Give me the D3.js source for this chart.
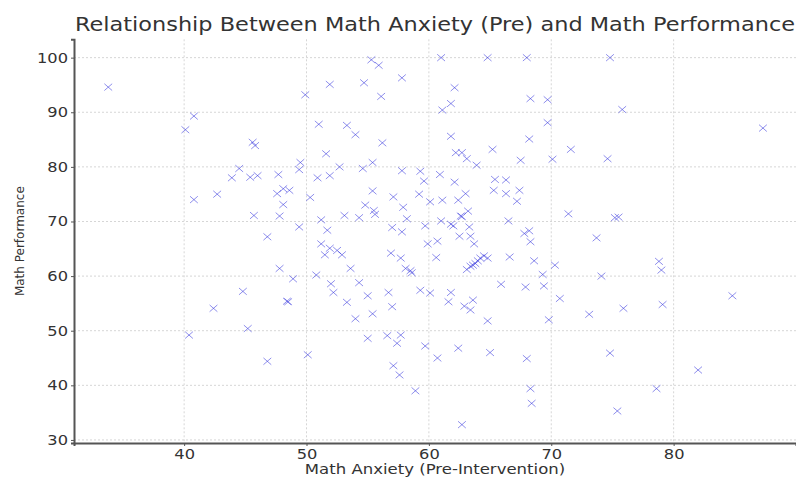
<!DOCTYPE html>
<html><head><meta charset="utf-8">
<script src="https://cdn.jsdelivr.net/npm/d3@7"></script>
<style>body{margin:0;background:#fff}svg{display:block}text{font-family:"DejaVu Sans",sans-serif;fill:#333}</style>
</head><body>
<script>
const anxiety = [33.8,40.8,40.1,45.6,45.8,44.5,43.9,45.4,42.7,40.8,45.7,
55.3,55.9,57.8,51.9,54.7,56.1,49.9,51.0,53.3,54.0,56.2,51.6,49.5,49.4,52.7,54.6,55.4,46.0,47.7,50.9,51.9,57.8,59.3,59.6,47.6,48.1,48.6,48.1,50.3,55.4,57.1,59.2,60.1,54.8,57.9,47.8,55.6,55.5,53.1,54.3,51.2,58.2,59.7,49.4,51.7,46.8,57.0,57.8,
61.0,64.8,68.0,74.8,62.1,61.8,61.1,68.3,69.7,69.7,61.8,68.2,65.2,71.6,62.2,62.7,63.1,63.9,67.5,70.1,74.6,60.9,62.1,65.4,66.3,63.0,65.3,66.3,67.4,67.2,61.1,62.4,63.2,62.6,62.7,61.0,61.8,62.0,63.3,66.5,71.4,75.2,67.8,68.2,62.5,63.4,73.7,
75.8,87.3,75.5,44.8,42.4,40.4,45.2,
51.2,51.9,52.5,52.9,51.5,53.6,47.8,48.9,50.8,52.0,52.2,54.3,55.0,56.7,57.0,53.3,54.0,55.4,48.4,48.5,55.0,56.6,57.7,57.4,59.7,56.9,57.7,58.1,58.5,58.6,59.3,60.1,59.9,46.8,50.1,57.1,57.6,58.9,
60.7,63.7,60.6,63.1,63.4,63.8,64.2,64.5,64.8,63.6,64.0,66.6,68.3,68.6,70.3,69.3,69.4,67.9,65.9,74.1,70.7,73.1,69.8,61.8,61.6,62.9,63.4,63.6,64.8,60.7,62.4,65.0,68.0,68.3,68.4,62.7,74.8,
78.8,79.0,75.9,79.1,84.8,82.0,78.6,75.4];
const performance = [94.6,89.3,86.8,84.5,83.9,79.7,78.0,78.1,75.0,74.0,71.1,
99.6,98.6,96.3,95.1,95.4,92.9,93.2,87.8,87.6,85.9,84.4,82.4,80.8,79.5,80.0,79.7,80.8,78.4,78.6,78.0,78.4,79.3,79.2,77.4,75.1,76.0,75.7,73.1,74.4,75.6,74.5,75.0,73.6,73.0,72.6,71.0,71.3,72.0,71.1,70.7,70.3,70.5,69.2,69.0,68.4,67.2,68.9,68.1,
100,100,100,100,94.5,91.6,90.4,92.5,92.3,88.1,85.6,85.1,83.2,83.2,82.6,82.6,81.5,80.3,81.2,81.4,81.5,78.6,77.2,77.7,77.6,75.1,75.7,75.1,75.7,73.7,73.9,73.9,71.9,71.0,70.9,70.1,69.5,69.2,69.0,70.1,71.4,70.7,67.8,68.3,67.3,67.3,67.0,
90.5,87.1,70.8,57.2,54.1,49.2,50.4,
65.9,65.1,64.7,63.9,63.9,61.4,61.4,59.5,60.2,58.6,57.0,58.8,56.4,57.0,54.4,55.2,52.2,53.1,55.4,55.3,48.6,49.1,49.2,47.7,47.2,64.2,63.3,61.4,61.0,60.6,57.4,56.9,65.9,44.4,45.6,43.6,41.9,39.0,
66.4,65.9,63.4,61.2,61.8,62.3,63.3,63.7,63.3,62.0,62.8,63.5,66.3,62.8,62.0,60.3,58.2,58.0,58.5,60.0,55.9,53.0,52.0,57.0,55.3,54.5,53.8,55.6,51.8,45.0,46.8,46.0,44.9,39.4,36.7,32.8,45.9,
62.7,61.1,54.1,54.8,56.4,42.8,39.4,35.3];
const xTicks = [40,50,60,70,80];
const yTicks = [30,40,50,60,70,80,90,100];
const titleText = "Relationship Between Math Anxiety (Pre) and Math Performance";
const xLabel = "Math Anxiety (Pre-Intervention)";
const yLabel = "Math Performance";

const W=796,H=479, L=74, R=796, T=39.3, B=443;
const stretch=1.16;
const svg=d3.select("body").append("svg").attr("width",W).attr("height",H);
const x=d3.scaleLinear().domain([31.0,90.0]).range([L,R]);
const y=d3.scaleLinear().domain([29.44,103.36]).range([B,T]);

function widen(sel,f){sel.each(function(){const n=this;const len=n.getComputedTextLength();
  d3.select(n).attr("textLength",len*f).attr("lengthAdjust","spacingAndGlyphs");});}

// grid
svg.append("g").selectAll("line").data(xTicks).join("line")
 .attr("x1",d=>x(d)).attr("x2",d=>x(d)).attr("y1",T).attr("y2",B)
 .attr("stroke","#d6d6d6").attr("stroke-width",1).attr("stroke-dasharray","2,2");
svg.append("g").selectAll("line").data(yTicks).join("line")
 .attr("y1",d=>y(d)).attr("y2",d=>y(d)).attr("x1",L).attr("x2",R)
 .attr("stroke","#d6d6d6").attr("stroke-width",1).attr("stroke-dasharray","2,2");

// points
const data=anxiety.map((a,i)=>({a,p:performance[i]}));
const sx=3.9, sy=3.4;
svg.append("g").selectAll("path").data(data).join("path")
 .attr("d",d=>{const cx=x(d.a),cy=y(d.p);return `M${cx-sx},${cy-sy}L${cx+sx},${cy+sy}M${cx-sx},${cy+sy}L${cx+sx},${cy-sy}`;})
 .attr("stroke","#3333dd").attr("stroke-opacity",0.55).attr("stroke-width",1).attr("fill","none");

// axes
const xa=svg.append("g").attr("transform",`translate(0,${B})`)
 .call(d3.axisBottom(x).tickValues(xTicks).tickSize(3).tickPadding(3));
const ya=svg.append("g").attr("transform",`translate(${L},0)`)
 .call(d3.axisLeft(y).tickValues(yTicks).tickSize(3).tickPadding(3));
[xa,ya].forEach(g=>{g.select(".domain").attr("stroke","#555").attr("stroke-width",2);
 g.selectAll(".tick line").attr("stroke","#555");
 g.selectAll(".tick text").attr("font-size",14).attr("fill","#333").attr("font-family","DejaVu Sans");});
widen(xa.selectAll(".tick text"),stretch);
widen(ya.selectAll(".tick text"),stretch);

svg.append("text").attr("x",435).attr("y",31).attr("text-anchor","middle")
 .attr("font-size",19).text(titleText).call(widen,1.18);
svg.append("text").attr("x",435).attr("y",474).attr("text-anchor","middle")
 .attr("font-size",14).text(xLabel).call(widen,1.18);
svg.append("text").attr("transform",`translate(24,${(T+B)/2}) rotate(-90)`).attr("text-anchor","middle")
 .attr("font-size",12).text(yLabel);
</script>
</body></html>
